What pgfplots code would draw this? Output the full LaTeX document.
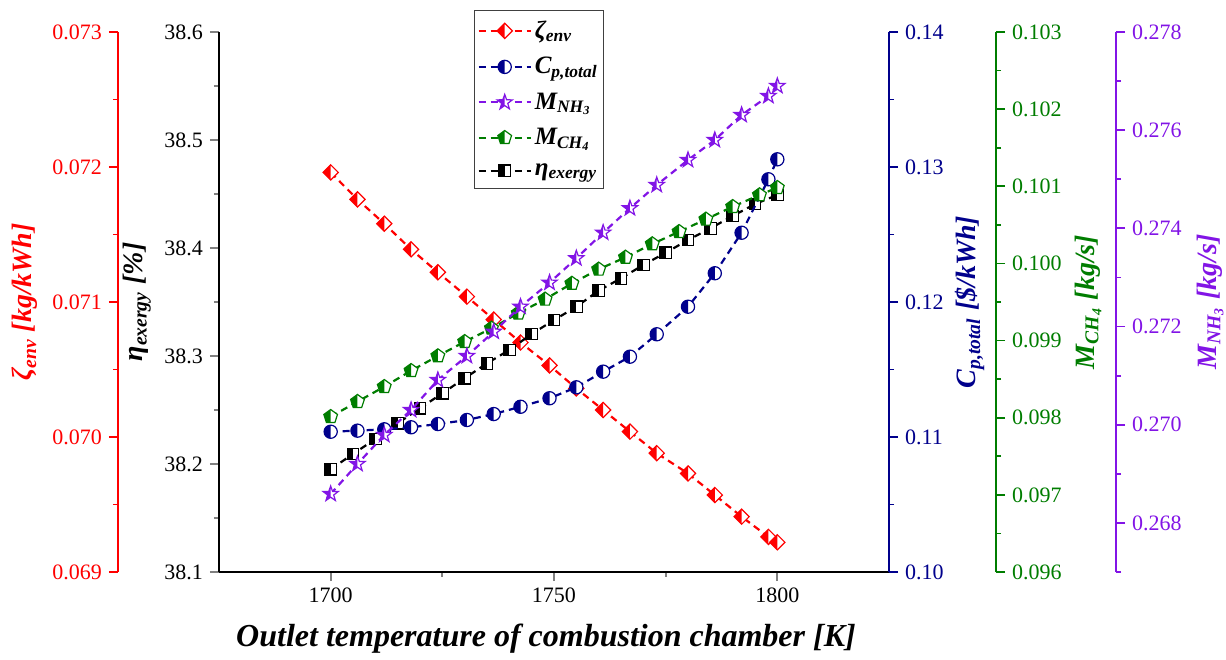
\documentclass[border=0pt]{standalone}
\usepackage{fontspec}
\setmainfont{Liberation Serif}
\usepackage{pgfplots}
\pgfplotsset{compat=1.18}

\definecolor{cred}{RGB}{255,0,0}
\definecolor{cnavy}{RGB}{0,0,140}
\definecolor{cgreen}{RGB}{0,125,0}
\definecolor{cpurple}{RGB}{130,20,230}

% outlines of the half-filled marks
\def\diamondpath{\pgfpathmoveto{\pgfpoint{0pt}{\pgfplotmarksize}}%
  \pgfpathlineto{\pgfpoint{\pgfplotmarksize}{0pt}}%
  \pgfpathlineto{\pgfpoint{0pt}{-\pgfplotmarksize}}%
  \pgfpathlineto{\pgfpoint{-\pgfplotmarksize}{0pt}}\pgfpathclose}
\def\starpath{\pgfpathmoveto{\pgfpointpolar{90}{\pgfplotmarksize}}%
  \pgfpathlineto{\pgfpointpolar{126}{0.4\pgfplotmarksize}}%
  \pgfpathlineto{\pgfpointpolar{162}{\pgfplotmarksize}}%
  \pgfpathlineto{\pgfpointpolar{198}{0.4\pgfplotmarksize}}%
  \pgfpathlineto{\pgfpointpolar{234}{\pgfplotmarksize}}%
  \pgfpathlineto{\pgfpointpolar{270}{0.4\pgfplotmarksize}}%
  \pgfpathlineto{\pgfpointpolar{306}{\pgfplotmarksize}}%
  \pgfpathlineto{\pgfpointpolar{342}{0.4\pgfplotmarksize}}%
  \pgfpathlineto{\pgfpointpolar{18}{\pgfplotmarksize}}%
  \pgfpathlineto{\pgfpointpolar{54}{0.4\pgfplotmarksize}}\pgfpathclose}
\def\pentpath{\pgfpathmoveto{\pgfpointpolar{90}{\pgfplotmarksize}}%
  \pgfpathlineto{\pgfpointpolar{162}{\pgfplotmarksize}}%
  \pgfpathlineto{\pgfpointpolar{234}{\pgfplotmarksize}}%
  \pgfpathlineto{\pgfpointpolar{306}{\pgfplotmarksize}}%
  \pgfpathlineto{\pgfpointpolar{18}{\pgfplotmarksize}}\pgfpathclose}
\def\whitefill#1{\begin{pgfscope}\pgfsetfillcolor{white}#1\pgfusepathqfill\end{pgfscope}}

\pgfdeclareplotmark{hdiamond}{\whitefill\diamondpath
  \pgfpathmoveto{\pgfpoint{0pt}{\pgfplotmarksize}}%
  \pgfpathlineto{\pgfpoint{-\pgfplotmarksize}{0pt}}%
  \pgfpathlineto{\pgfpoint{0pt}{-\pgfplotmarksize}}\pgfpathclose\pgfusepathqfill
  \diamondpath\pgfusepathqstroke}
\pgfdeclareplotmark{hcircle}{%
  \whitefill{\pgfpathcircle{\pgfpointorigin}{\pgfplotmarksize}}%
  \pgfpathmoveto{\pgfpoint{0pt}{\pgfplotmarksize}}%
  \pgfpatharc{90}{270}{\pgfplotmarksize}\pgfpathclose\pgfusepathqfill
  \pgfpathcircle{\pgfpointorigin}{\pgfplotmarksize}\pgfusepathqstroke}
\pgfdeclareplotmark{hsquare}{%
  \whitefill{\pgfpathrectangle{\pgfpoint{-\pgfplotmarksize}{-\pgfplotmarksize}}{\pgfpoint{2\pgfplotmarksize}{2\pgfplotmarksize}}}%
  \pgfpathrectangle{\pgfpoint{-\pgfplotmarksize}{-\pgfplotmarksize}}{\pgfpoint{\pgfplotmarksize}{2\pgfplotmarksize}}\pgfusepathqfill
  \pgfpathrectangle{\pgfpoint{-\pgfplotmarksize}{-\pgfplotmarksize}}{\pgfpoint{2\pgfplotmarksize}{2\pgfplotmarksize}}\pgfusepathqstroke}
\pgfdeclareplotmark{hstar}{\whitefill\starpath
  \pgfpathmoveto{\pgfpointpolar{90}{\pgfplotmarksize}}%
  \pgfpathlineto{\pgfpointpolar{126}{0.4\pgfplotmarksize}}%
  \pgfpathlineto{\pgfpointpolar{162}{\pgfplotmarksize}}%
  \pgfpathlineto{\pgfpointpolar{198}{0.4\pgfplotmarksize}}%
  \pgfpathlineto{\pgfpointpolar{234}{\pgfplotmarksize}}%
  \pgfpathlineto{\pgfpointpolar{270}{0.4\pgfplotmarksize}}\pgfpathclose\pgfusepathqfill
  \starpath\pgfusepathqstroke}
\pgfdeclareplotmark{hpent}{\whitefill\pentpath
  \pgfpathmoveto{\pgfpointpolar{90}{\pgfplotmarksize}}%
  \pgfpathlineto{\pgfpointpolar{162}{\pgfplotmarksize}}%
  \pgfpathlineto{\pgfpointpolar{234}{\pgfplotmarksize}}%
  \pgfpathlineto{\pgfpoint{0pt}{-0.809\pgfplotmarksize}}\pgfpathclose\pgfusepathqfill
  \pentpath\pgfusepathqstroke}

\pgfplotsset{
  base/.style={
    scale only axis, height=270pt, clip=false,
    tick align=outside, major tick length=4.5pt, minor tick length=2.5pt,
    every tick/.append style={line width=0.9pt},
    axis line style={line width=1pt},
    tick label style={font=\fontsize{11}{12}\selectfont},
    /pgf/number format/assume math mode=true,
    scaled y ticks=false,
  },
  ylab/.style={every axis y label/.style={at={(axis description cs:#1,0.5)}, rotate=90,
    anchor=center, font=\fontsize{14}{16}\selectfont\bfseries\itshape}},
  ycol/.style={y axis line style={#1}, ytick style={#1}, yticklabel style={#1}, ylabel style={#1}},
  prec/.style={yticklabel style={/pgf/number format/.cd, fixed, fixed zerofill, precision=#1}},
  ser/.style={color=#1, line width=1.1pt, dash pattern=on 3.5pt off 2.5pt,
    mark options={solid, line width=0.6pt, fill=#1}},
}

\begin{document}
\begin{tikzpicture}

% zeta_env, red axis on the far left
\begin{axis}[base, width=385.5pt, at={(-50.5pt,0)}, anchor=south west,
  xmin=1652.388, xmax=1825, ymin=0.069, ymax=0.073,
  axis x line=none, axis y line*=left, ylab=-0.1206, ycol=cred, prec=3,
  ytick={0.069,0.070,0.071,0.072,0.073}, minor y tick num=1,
  ylabel={ζ\textsubscript{env} [kg/kWh]}]
\addplot[ser=cred, mark=hdiamond, mark size=3.8pt] coordinates {
(1700,0.07196) (1706,0.07176) (1712,0.07158) (1718,0.07139) (1724,0.07122)
(1730.5,0.07104) (1736.5,0.07087) (1742.5,0.07070) (1749,0.07053) (1755,0.07036)
(1761,0.07020) (1767,0.07004) (1773,0.06988) (1780,0.06973) (1786,0.06957)
(1792,0.06941) (1798,0.06926) (1800,0.06922)};
\end{axis}

% eta_exergy, main axis
\begin{axis}[base, width=335pt, at={(0,0)}, anchor=south west,
  xmin=1675, xmax=1825, ymin=38.1, ymax=38.6,
  axis x line*=bottom, axis y line*=left, ylab=-0.1224, prec=1,
  xtick={1700,1750,1800}, minor xtick={1725,1775},
  xticklabel style={/pgf/number format/.cd, fixed, precision=0, 1000 sep={}},
  ytick={38.1,38.2,38.3,38.4,38.5,38.6}, minor y tick num=1,
  xlabel={Outlet temperature of combustion chamber [K]},
  every axis x label/.style={at={(axis description cs:0.5,0)}, anchor=center, yshift=-33.5pt, xshift=-4pt,
    font=\fontsize{16}{18}\selectfont\bfseries\itshape},
  ylabel={η\textsubscript{exergy} [\%]}]
\addplot[ser=black, mark=hsquare, mark size=2.9pt] coordinates {
(1700,38.1951) (1705,38.2093) (1710,38.2231) (1715,38.2377) (1720,38.2516)
(1725,38.2655) (1730,38.2794) (1735,38.2932) (1740,38.3056) (1745,38.3204)
(1750,38.3333) (1755,38.3456) (1760,38.3605) (1765,38.3719) (1770,38.3843)
(1775,38.3956) (1780,38.4074) (1785,38.4182) (1790,38.4296) (1795,38.4407)
(1800,38.4491)};
\end{axis}

% C_p,total, navy axis on the right edge of the frame
\begin{axis}[base, width=335pt, at={(0,0)}, anchor=south west,
  xmin=1675, xmax=1825, ymin=0.10, ymax=0.14,
  axis x line=none, axis y line*=right, ylab=1.1209, ycol=cnavy, prec=2,
  ytick={0.10,0.11,0.12,0.13,0.14}, minor y tick num=1,
  ylabel={C\textsubscript{p,total} [\$/kWh]}]
\addplot[ser=cnavy, mark=hcircle, mark size=3.3pt] coordinates {
(1700,0.11039) (1706,0.11047) (1712,0.11057) (1718,0.11072) (1724,0.11096)
(1730.5,0.11126) (1736.5,0.11170) (1742.5,0.11224) (1749,0.11287) (1755,0.11368)
(1761,0.11484) (1767,0.11595) (1773,0.11761) (1780,0.11965) (1786,0.12213)
(1792,0.12513) (1798,0.12909) (1800,0.13057)};
\end{axis}

% M_CH4, green axis
\begin{axis}[base, width=388.5pt, at={(0,0)}, anchor=south west,
  xmin=1675, xmax=1848.955, ymin=0.096, ymax=0.103,
  axis x line=none, axis y line*=right, ylab=1.1184, ycol=cgreen, prec=3,
  ytick={0.096,0.097,0.098,0.099,0.100,0.101,0.102,0.103}, minor y tick num=1,
  ylabel={M\textsubscript{CH\textsubscript{4}} [kg/s]}]
\addplot[ser=cgreen, mark=hpent, mark size=3.6pt] coordinates {
(1700,0.098013) (1706,0.098208) (1712,0.098402) (1718,0.098609) (1724,0.098800)
(1730,0.098985) (1736,0.099159) (1742,0.099354) (1748,0.099535) (1754,0.099740)
(1760,0.099924) (1766,0.100079) (1772,0.100252) (1778,0.100411) (1784,0.100572)
(1790,0.100735) (1796,0.100887) (1800,0.100982)};
\end{axis}

% M_NH3, purple axis, carries the legend
\begin{axis}[base, width=448.5pt, at={(0,0)}, anchor=south west,
  xmin=1675, xmax=1875.821, ymin=0.267, ymax=0.278,
  axis x line=none, axis y line*=right, ylab=1.1048, ycol=cpurple, prec=3,
  ytick={0.268,0.270,0.272,0.274,0.276,0.278},
  minor ytick={0.267,0.269,0.271,0.273,0.275,0.277},
  ylabel={M\textsubscript{NH\textsubscript{3}} [kg/s]},
  legend style={at={(axis description cs:0.2843,1.0407)}, anchor=north west,
    draw=black!75, line width=0.6pt, row sep=4pt, inner xsep=1.5pt, inner ysep=3pt,
    nodes={inner xsep=1.5pt},
    font=\fontsize{12.5}{14}\selectfont\bfseries\itshape, cells={anchor=west}},
  legend image code/.code={\draw[mark repeat=2, mark phase=2, #1]
    plot coordinates {(0pt,0pt) (13pt,0pt) (26pt,0pt)};}]
\addplot[ser=cpurple, mark=hstar, mark size=4pt, forget plot] coordinates {
(1700,0.268589) (1706,0.269200) (1712,0.269791) (1718,0.270300) (1724,0.270911)
(1730.5,0.271400) (1736.5,0.271895) (1742.5,0.272404) (1749,0.272893) (1755,0.273390)
(1761,0.273912) (1767,0.274409) (1773,0.274883) (1780,0.275393) (1786,0.275800)
(1792,0.276309) (1798,0.276696) (1800,0.276900)};
\addlegendimage{ser=cred, mark=hdiamond, mark size=3.8pt}
\addlegendentry{ζ\textsubscript{env}}
\addlegendimage{ser=cnavy, mark=hcircle, mark size=3.3pt}
\addlegendentry{C\textsubscript{p,total}}
\addlegendimage{ser=cpurple, mark=hstar, mark size=4pt}
\addlegendentry{M\textsubscript{NH\textsubscript{3}}}
\addlegendimage{ser=cgreen, mark=hpent, mark size=3.6pt}
\addlegendentry{M\textsubscript{CH\textsubscript{4}}}
\addlegendimage{ser=black, mark=hsquare, mark size=2.9pt}
\addlegendentry{η\textsubscript{exergy}}
\end{axis}

\pgfresetboundingbox
\useasboundingbox (-109.5pt,-43.5pt) rectangle (503.5pt,286pt);
\end{tikzpicture}
\end{document}
